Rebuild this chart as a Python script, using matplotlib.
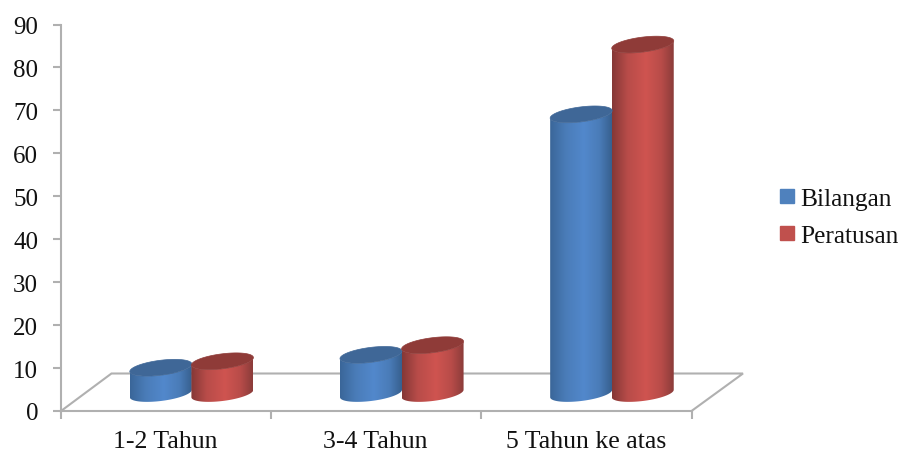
import numpy as np
import matplotlib
matplotlib.use('Agg')
import matplotlib.pyplot as plt
from matplotlib.colors import LinearSegmentedColormap
from matplotlib.patches import Polygon, Patch

plt.rcParams['font.family'] = ['Liberation Serif', 'DejaVu Serif']

categories = ['1-2 Tahun', '3-4 Tahun', '5 Tahun ke atas']
bilangan = [6, 9, 65]
peratusan = [7.5, 11.25, 81.25]
yticks = list(range(0, 100, 10))

W, H = 902, 452
gray = '#b0b0b0'

fig = plt.figure(figsize=(W / 100, H / 100), dpi=100)
ax = fig.add_axes([61 / W, (H - 412) / H, 630.5 / W, 386.5 / H])

# one pixel in data units
PX = 3 / 630.5
PY = 90 / 386.5

R = 31 * PX       # cylinder radius
SHEAR = 0.12      # tilt of the ellipses, pixels per pixel
BASE = 17.5 * PY  # cylinder base sits this far above the axis


def ellipse(cx, cy, t):
    dx = np.cos(t) * 31
    dy = np.sin(t) * 7.5 + dx * SHEAR
    return cx + dx * PX, cy + dy * PY


def cylinder(cx, val, cmap, top_color):
    y0 = BASE
    y1 = BASE + val
    # body outline: bottom half of the base, then back along the top
    t = np.linspace(np.pi, 2 * np.pi, 60)
    bx, by = ellipse(cx, y0, t)
    tx, ty = ellipse(cx, y1, t[::-1])
    body = Polygon(np.column_stack([np.r_[bx, tx], np.r_[by, ty]]),
                   closed=True, fc='none', ec='none', transform=ax.transData)
    ax.add_patch(body)
    grad = np.linspace(0, 1, 128).reshape(1, -1)
    im = ax.imshow(grad, cmap=cmap, aspect='auto', zorder=3,
                   extent=(cx - R, cx + R, y0 - 4, y1 + 4))
    im.set_clip_path(body)
    # top face
    t = np.linspace(0, 2 * np.pi, 120)
    ex, ey = ellipse(cx, y1, t)
    ax.fill(ex, ey, color=top_color, lw=0.5, zorder=4)


blue_cmap = LinearSegmentedColormap.from_list(
    'b', [(0, '#3a6699'), (0.25, '#4a7cb8'), (0.55, '#5288cc'), (0.8, '#4a7cb8'), (1, '#37608f')])
red_cmap = LinearSegmentedColormap.from_list(
    'r', [(0, '#853836'), (0.25, '#b84c49'), (0.55, '#cf5450'), (0.8, '#b84c49'), (1, '#8b3c3a')])

# floor of the 3d chart
depth_x = 51.5 * PX
depth_y = 37.5 * PY
ax.plot([0, depth_x * 0.98, 3 + depth_x, 3], [0, depth_y, depth_y, 0],
        color=gray, lw=1.5, clip_on=False, zorder=1, solid_joinstyle='miter')

for i in range(len(categories)):
    cylinder(i + 0.475, bilangan[i], blue_cmap, '#3f6797')
    cylinder(i + 0.768, peratusan[i], red_cmap, '#8f3b38')

ax.set_xlim(0, 3)
ax.set_ylim(0, 90)
ax.set_xticks([0, 1, 2, 3])
ax.set_xticklabels([])
ax.set_xticks([0.4975, 1.4975, 2.4975], minor=True)
ax.set_xticklabels(categories, minor=True, fontsize=18.5, color='#111111')
ax.tick_params(axis='x', which='major', length=6, width=1.5, color=gray)
ax.tick_params(axis='x', which='minor', length=0, pad=14)
ax.set_yticks(yticks)
ax.tick_params(axis='y', length=6, width=1.5, color=gray, labelsize=18,
               labelcolor='#111111', pad=10.5)
for side in ['top', 'right']:
    ax.spines[side].set_visible(False)
for side in ['left', 'bottom']:
    ax.spines[side].set_color(gray)
    ax.spines[side].set_linewidth(1.5)
ax.patch.set_alpha(0)

handles = [Patch(fc='#4f81bd', ec='#4f81bd'), Patch(fc='#c0504d', ec='#c0504d')]
fig.legend(handles, ['Bilangan', 'Peratusan'], loc='center left',
           bbox_to_anchor=(760 / W, 1 - 218.5 / H), frameon=False, fontsize=18.3,
           handlelength=0.52, handleheight=0.5, handletextpad=0.25,
           labelspacing=0.6, borderpad=0.3, labelcolor='#111111')

fig.savefig('out.png', dpi=100)
